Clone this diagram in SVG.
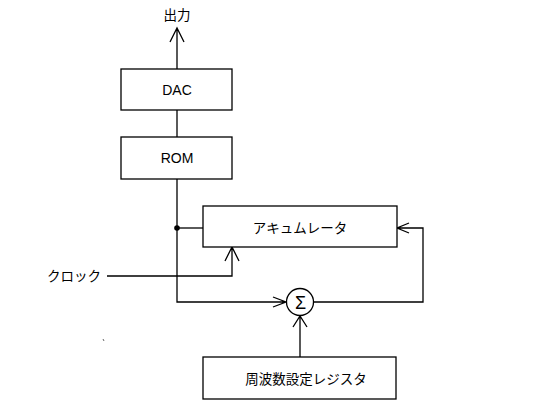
<svg xmlns="http://www.w3.org/2000/svg" width="550" height="419" viewBox="0 0 550 419">
<style>
.box{fill:#fff;stroke:#000;stroke-width:1.3}
.ln{fill:none;stroke:#000;stroke-width:1.3}
.lat{font-family:"Liberation Sans",Arial,sans-serif;font-size:14px;fill:#000}
.jp{font-family:"Noto Sans CJK JP","Noto Sans",sans-serif;font-size:13.5px;fill:#000}
</style>
<rect width="550" height="419" fill="#fff"/>
<g id="connectors">
<path class="ln" d="M177,69 V28 M170,42 L177,28 L184,42"/>
<path class="ln" d="M177,110 V137"/>
<path class="ln" d="M177,179 V302 H286 M273,297 L286,302 L273,307"/>
<path class="ln" d="M177,228 H203"/>
<circle cx="177" cy="228" r="2.8" fill="#000"/>
<path class="ln" d="M107,276 H232 V247 M225,261 L232,247 L239,261"/>
<path class="ln" d="M314,302 H423 V228 H397 M409,223 L397,228 L409,233"/>
<path class="ln" d="M300,357 V316 M293,327 L300,316 L307,327"/>
<path d="M103,339 L104,341" stroke="#666" stroke-width="1" fill="none"/>
</g>
<g id="out">
<text class="jp" x="177" y="20" text-anchor="middle">出力</text>
</g>
<g id="dac">
<rect class="box" x="121" y="69" width="111" height="41"/>
<text class="lat" x="177" y="95" text-anchor="middle">DAC</text>
</g>
<g id="rom">
<rect class="box" x="121" y="137" width="111" height="42"/>
<text class="lat" x="177" y="163" text-anchor="middle">ROM</text>
</g>
<g id="acc">
<rect class="box" x="203" y="206" width="194" height="41"/>
<text class="jp" x="300" y="232.5" text-anchor="middle">アキュムレータ</text>
</g>
<g id="clock">
<text class="jp" x="47" y="280.5">クロック</text>
</g>
<g id="sum">
<circle class="box" cx="300" cy="302" r="13.5"/>
<text class="lat" x="300.5" y="308.5" text-anchor="middle" style="font-size:18px">Σ</text>
</g>
<g id="reg">
<rect class="box" x="203" y="357" width="193" height="42"/>
<text class="jp" x="306" y="384" text-anchor="middle">周波数設定レジスタ</text>
</g>
</svg>
